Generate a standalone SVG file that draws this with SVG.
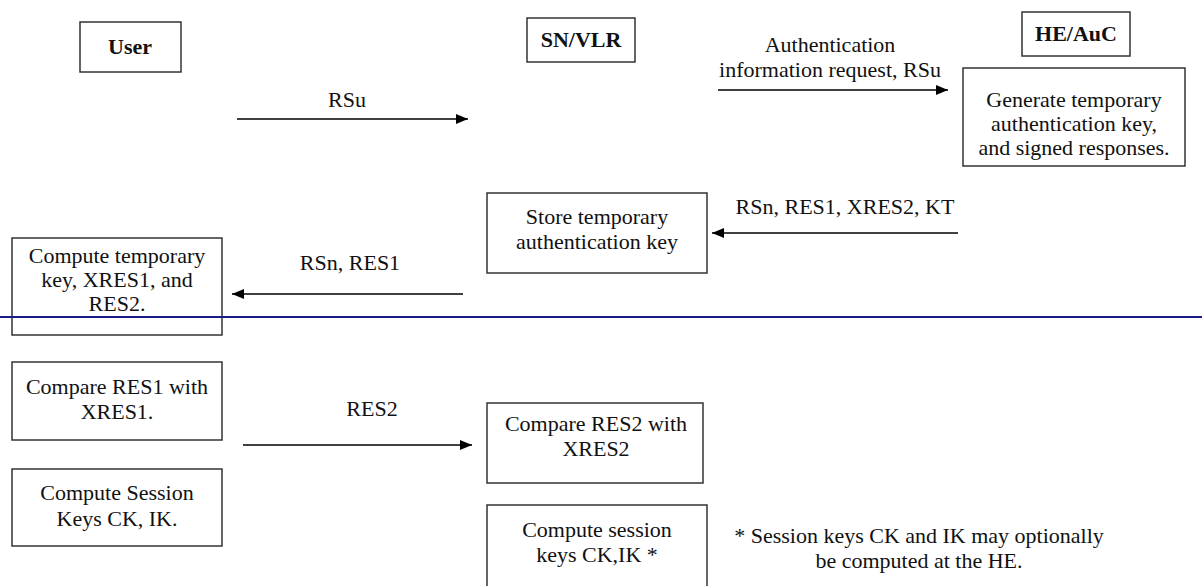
<svg xmlns="http://www.w3.org/2000/svg" width="1202" height="586" viewBox="0 0 1202 586">
  <style>
    .box { fill: #ffffff; stroke: #333333; stroke-width: 1.5; }
    .t { font-family: "Liberation Serif", "Times New Roman", serif; font-size: 22px; fill: #111111; text-anchor: middle; }
    .tb { font-family: "Liberation Serif", "Times New Roman", serif; font-size: 22px; font-weight: bold; fill: #111111; text-anchor: middle; }
    .msg { stroke: #000000; stroke-width: 1.6; fill: none; }
  </style>
  <defs>
    <marker id="head" viewBox="0 0 12 10" refX="12" refY="5" markerWidth="12" markerHeight="10" markerUnits="userSpaceOnUse" orient="auto">
      <path d="M0,0 L12,5 L0,10 Z" fill="#000000"/>
    </marker>
  </defs>

  <rect width="1202" height="586" fill="#ffffff"/>

  <!-- Entities -->
  <g id="user">
    <rect class="box" x="80" y="22" width="101" height="50"/>
    <text class="tb" x="130" y="54">User</text>
  </g>
  <g id="sn-vlr">
    <rect class="box" x="527" y="18" width="108" height="44"/>
    <text class="tb" x="581" y="47">SN/VLR</text>
  </g>
  <g id="he-auc">
    <rect class="box" x="1022" y="12" width="108" height="44"/>
    <text class="tb" x="1076" y="41">HE/AuC</text>
  </g>

  <!-- Processing steps -->
  <g id="generate">
    <rect class="box" x="963" y="68" width="222" height="98"/>
    <text class="t" x="1074" y="107">Generate temporary</text>
    <text class="t" x="1074" y="131">authentication key,</text>
    <text class="t" x="1074" y="155">and signed responses.</text>
  </g>
  <g id="store">
    <rect class="box" x="487" y="193" width="220" height="80"/>
    <text class="t" x="597" y="224">Store temporary</text>
    <text class="t" x="597" y="249">authentication key</text>
  </g>
  <g id="compute-temp">
    <rect class="box" x="12" y="238" width="210" height="97"/>
    <text class="t" x="117" y="263">Compute temporary</text>
    <text class="t" x="117" y="287">key, XRES1, and</text>
    <text class="t" x="117" y="311">RES2.</text>
  </g>
  <g id="compare-res1">
    <rect class="box" x="12" y="362" width="210" height="78"/>
    <text class="t" x="117" y="394">Compare RES1 with</text>
    <text class="t" x="117" y="419">XRES1.</text>
  </g>
  <g id="compare-res2">
    <rect class="box" x="487" y="403" width="216" height="80"/>
    <text class="t" x="596" y="431">Compare RES2 with</text>
    <text class="t" x="596" y="456">XRES2</text>
  </g>
  <g id="compute-session-user">
    <rect class="box" x="12" y="469" width="210" height="77"/>
    <text class="t" x="117" y="500">Compute Session</text>
    <text class="t" x="117" y="526">Keys CK, IK.</text>
  </g>
  <g id="compute-session-sn">
    <rect class="box" x="487" y="505" width="220" height="86"/>
    <text class="t" x="597" y="537">Compute session</text>
    <text class="t" x="597" y="562">keys CK,IK *</text>
  </g>

  <!-- Footnote -->
  <g id="footnote">
    <text class="t" x="919" y="543">* Session keys CK and IK may optionally</text>
    <text class="t" x="919" y="568">be computed at the HE.</text>
  </g>

  <!-- Phase separator -->
  <line x1="0" y1="317" x2="1202" y2="317" stroke="#1a1a8a" stroke-width="2"/>

  <!-- Messages -->
  <g id="connectors">
    <line class="msg" x1="237" y1="119" x2="468" y2="119" marker-end="url(#head)"/>
    <text class="t" x="347" y="107">RSu</text>

    <line class="msg" x1="718" y1="90" x2="948" y2="90" marker-end="url(#head)"/>
    <text class="t" x="830" y="52">Authentication</text>
    <text class="t" x="830" y="77">information request, RSu</text>

    <line class="msg" x1="958" y1="233" x2="712" y2="233" marker-end="url(#head)"/>
    <text class="t" x="845" y="214">RSn, RES1, XRES2, KT</text>

    <line class="msg" x1="463" y1="294" x2="232" y2="294" marker-end="url(#head)"/>
    <text class="t" x="350" y="270">RSn, RES1</text>

    <line class="msg" x1="243" y1="445" x2="472" y2="445" marker-end="url(#head)"/>
    <text class="t" x="372" y="416">RES2</text>
  </g>
</svg>
